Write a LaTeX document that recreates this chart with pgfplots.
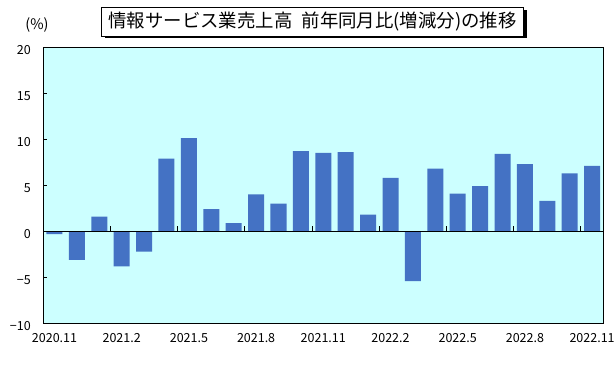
\documentclass[border=0pt]{standalone}
\usepackage{fontspec}
\setmainfont{Noto Sans CJK JP}
\usepackage{pgfplots}
\pgfplotsset{compat=1.18}
\definecolor{barblue}{HTML}{4472C4}
\definecolor{plotbg}{HTML}{CCFFFF}
\begin{document}
\begin{tikzpicture}[x=1pt,y=1pt]
\useasboundingbox (0,0) rectangle (614,371);
\begin{axis}[
  at={(43.3pt,47.5pt)}, anchor=south west,
  width=560pt, height=276.5pt, scale only axis,
  xmin=-0.5, xmax=24.5, ymin=-10, ymax=20,
  axis background/.style={fill=plotbg},
  axis line style={black, line width=0.9pt},
  ytick={-10,-5,0,5,10,15,20},
  yticklabels={−10,−5,0,5,10,15,20},
  y tick label style={font=\fontsize{12.5}{14}\selectfont, anchor=east, xshift=-9pt, yshift=-3pt},
  ytick style={black, line width=0.9pt},
  tick align=inside, major tick length=4pt,
  ytick pos=left,
  xtick={0,3,6,9,12,15,18,21,24},
  xticklabels={2020.11,2021.2,2021.5,2021.8,2021.11,2022.2,2022.5,2022.8,2022.11},
  x tick label style={font=\fontsize{12.5}{14}\selectfont, anchor=north, yshift=-2pt},
  x tick style={draw=none},
  ybar, bar width=16pt,
  clip=false,
]
\addplot[fill=barblue, draw=none] coordinates {
(0,-0.3) (1,-3.1) (2,1.6) (3,-3.8) (4,-2.2) (5,7.9) (6,10.1) (7,2.4) (8,0.9)
(9,4.0) (10,3.0) (11,8.7) (12,8.5) (13,8.6) (14,1.8) (15,5.8) (16,-5.4)
(17,6.8) (18,4.1) (19,4.9) (20,8.4) (21,7.3) (22,3.3) (23,6.3) (24,7.1)
};
\draw[black, line width=1.2pt] (axis cs:-0.5,0) -- (axis cs:24.5,0);
\pgfplotsinvokeforeach{2.5,5.5,8.5,11.5,14.5,17.5,20.5,23.5}{
  \draw[black, line width=0.9pt] (axis cs:#1,0) -- ++(0pt,5pt);
}
\end{axis}
\node[font=\fontsize{14.5}{16}\selectfont] at (37,346) {(\%)};
\fill[black] (105.2,332.5) rectangle (527,361.2);
\node[draw=black, line width=0.9pt, fill=white, minimum width=421.6pt, minimum height=28.7pt, inner sep=0pt,
  font=\fontsize{18.4}{20}\selectfont] at (312.5,349.35) {情報サービス業売上高\hspace{0.5em}前年同月比(増減分)の推移};
\end{tikzpicture}
\end{document}
